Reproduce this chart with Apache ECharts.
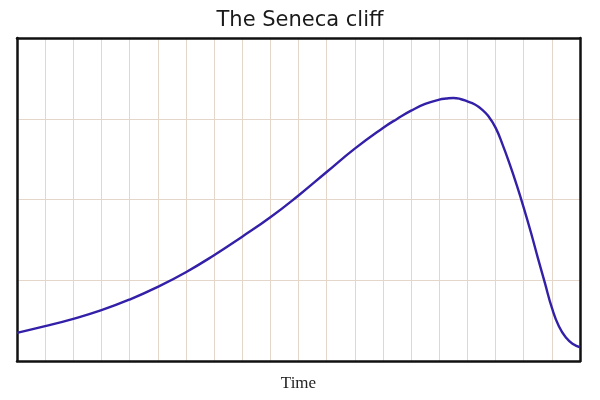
<!DOCTYPE html>
<html>
<head>
<meta charset="utf-8">
<style>html,body{margin:0;padding:0;background:#fff}#c{width:600px;height:400px}</style>
<script src="https://cdn.jsdelivr.net/npm/echarts@6/dist/echarts.min.js"></script>
</head>
<body>
<div id="c"></div>
<script>
var timeValues = [0,1,2,3,4,5,6,7,8,9,10,11,12,13,13.5,14,14.5,15,15.25,15.5,15.75,16,16.25,16.5,16.75,17,17.25,17.5,17.75,18,18.25,18.5,18.75,19,19.25,19.5,19.75,20];
var resource   = [0.349,0.431,0.522,0.629,0.761,0.918,1.10,1.31,1.54,1.78,2.05,2.34,2.63,2.886,2.998,3.10,3.183,3.236,3.25,3.257,3.245,3.215,3.18,3.12,3.03,2.89,2.68,2.44,2.18,1.90,1.60,1.28,0.97,0.66,0.43,0.29,0.21,0.17];
var titleText = 'The Seneca cliff';
var xName = 'Time';

var frameLine = { show: true, onZero: false, lineStyle: { color: '#111', width: 2.5 } };
var hidden = { axisTick: { show: false }, axisLabel: { show: false } };
var grid = { show: true, lineStyle: { color: '#e5d6ca', width: 1 } };

var chart = echarts.init(document.getElementById('c'));
chart.setOption({
  animation: false,
  backgroundColor: '#fff',
  title: {
    text: titleText, left: 'center', top: 5,
    textStyle: { fontFamily: 'DejaVu Sans', fontSize: 21, fontWeight: 'normal', color: '#1a1a1a' }
  },
  grid: { left: 17, right: 20, top: 38, bottom: 39 },
  xAxis: [{
    type: 'value', min: 0, max: 20, interval: 1, position: 'bottom',
    name: xName, nameLocation: 'middle', nameGap: 14,
    nameTextStyle: { fontFamily: 'Liberation Serif', fontSize: 17, color: '#222' },
    axisLine: frameLine, axisTick: hidden.axisTick, axisLabel: hidden.axisLabel,
    splitLine: grid, z: 3
  }, {
    type: 'value', min: 0, max: 20, position: 'top',
    axisLine: frameLine, axisTick: hidden.axisTick, axisLabel: hidden.axisLabel,
    splitLine: { show: false }, z: 3
  }],
  yAxis: [{
    type: 'value', min: 0, max: 4, interval: 1, position: 'left',
    axisLine: frameLine, axisTick: hidden.axisTick, axisLabel: hidden.axisLabel,
    splitLine: grid, z: 3
  }, {
    type: 'value', min: 0, max: 4, position: 'right',
    axisLine: frameLine, axisTick: hidden.axisTick, axisLabel: hidden.axisLabel,
    splitLine: { show: false }, z: 3
  }],
  series: [{
    type: 'line', smooth: 0.5, showSymbol: false, xAxisIndex: 0, yAxisIndex: 0,
    data: timeValues.map(function (t, i) { return [t, resource[i]]; }),
    lineStyle: { color: '#3320a8', width: 2.4 }
  }]
});
</script>
</body>
</html>
